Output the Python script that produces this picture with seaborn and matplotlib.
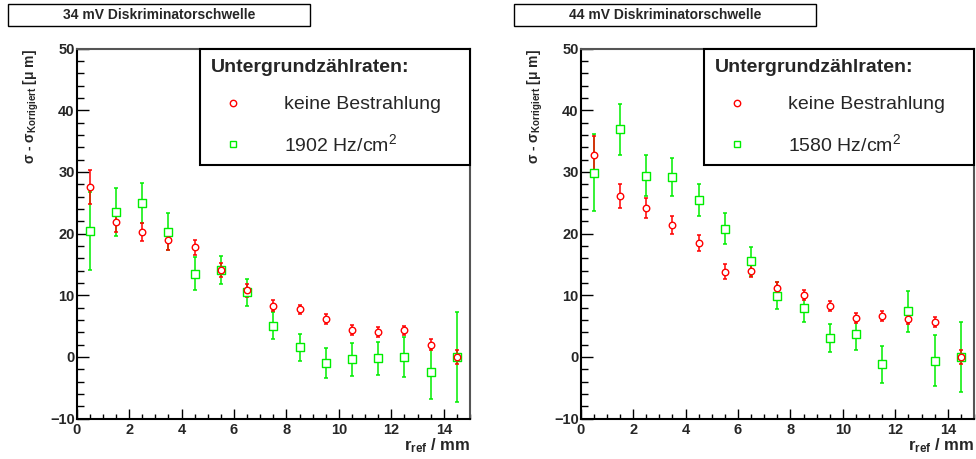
import numpy as np
import seaborn as sns
import matplotlib.pyplot as plt
from matplotlib.lines import Line2D
from matplotlib.patches import Rectangle
from matplotlib.ticker import MultipleLocator

sns.set_theme(style="ticks")
plt.rcParams['font.family'] = ['Liberation Sans', 'DejaVu Sans']
plt.rcParams['mathtext.fontset'] = 'custom'
plt.rcParams['mathtext.rm'] = 'Liberation Sans'
plt.rcParams['mathtext.bf'] = 'Liberation Sans:bold'
plt.rcParams['mathtext.it'] = 'Liberation Sans:italic'

# radius bins (mm)
r_ref = [0.5, 1.5, 2.5, 3.5, 4.5, 5.5, 6.5, 7.5, 8.5, 9.5, 10.5, 11.5, 12.5, 13.5, 14.5]

# 34 mV threshold
sig34_none = [27.6, 21.9, 20.3, 18.9, 17.8, 14.1, 10.8, 8.3, 7.7, 6.2, 4.4, 4.1, 4.3, 2.0, 0.0]
err34_none = [2.8, 1.7, 1.5, 1.5, 1.2, 1.1, 1.1, 0.9, 0.8, 0.8, 0.8, 0.8, 0.8, 0.9, 1.2]
sig34_bg = [20.4, 23.5, 25.0, 20.3, 13.5, 14.1, 10.5, 5.1, 1.6, -1.0, -0.4, -0.2, 0.0, -2.5, 0.0]
err34_bg = [6.3, 3.9, 3.2, 3.0, 2.7, 2.3, 2.2, 2.2, 2.2, 2.4, 2.7, 2.7, 3.3, 4.3, 7.3]

# 44 mV threshold
sig44_none = [32.8, 26.1, 24.2, 21.4, 18.5, 13.8, 14.0, 11.2, 10.1, 8.2, 6.3, 6.6, 6.1, 5.6, 0.0]
err44_none = [3.0, 1.9, 1.6, 1.5, 1.3, 1.2, 1.0, 1.0, 0.8, 0.8, 0.8, 0.8, 0.8, 0.8, 1.2]
sig44_bg = [29.9, 36.9, 29.4, 29.2, 25.5, 20.8, 15.5, 9.9, 7.9, 3.1, 3.7, -1.2, 7.4, -0.6, 0.0]
err44_bg = [6.2, 4.2, 3.3, 3.1, 2.6, 2.5, 2.4, 2.2, 2.2, 2.3, 2.5, 3.0, 3.3, 4.1, 5.7]

titles = ['34 mV Diskriminatorschwelle', '44 mV Diskriminatorschwelle']
bg_labels = ['1902 Hz/cm$^2$', '1580 Hz/cm$^2$']
legend_title = 'Untergrundzählraten:'
none_label = 'keine Bestrahlung'

RED = '#ff0000'
GREEN = '#00ee00'

fig = plt.figure(figsize=(9.76, 4.59), dpi=100)
fig.patch.set_facecolor('white')

panels = [
    (0.0786, sig34_none, err34_none, sig34_bg, err34_bg, 8, 302),
    (0.5950, sig44_none, err44_none, sig44_bg, err44_bg, 514, 302),
]

for i, (left, s_none, e_none, s_bg, e_bg, bx, bw) in enumerate(panels):
    ax = fig.add_axes([left, 0.0880, 0.4030, 0.8060])
    ax.set_facecolor('white')

    ax.errorbar(r_ref, s_bg, yerr=e_bg, fmt='none', ecolor=GREEN,
                elinewidth=1.1, capsize=1.6, capthick=1.1, zorder=2)
    ax.errorbar(r_ref, s_none, yerr=e_none, fmt='none', ecolor=RED,
                elinewidth=1.1, capsize=1.6, capthick=1.1, zorder=3)
    sns.scatterplot(x=r_ref, y=s_bg, ax=ax, marker='s', s=26,
                    facecolor='white', edgecolor=GREEN, linewidth=1.0, zorder=4)
    sns.scatterplot(x=r_ref, y=s_none, ax=ax, marker='o', s=22,
                    facecolor='white', edgecolor=RED, linewidth=1.0, zorder=5)

    ax.set_xlim(0, 15)
    ax.set_ylim(-10, 50)
    ax.xaxis.set_major_locator(MultipleLocator(2))
    ax.xaxis.set_minor_locator(MultipleLocator(0.5))
    ax.yaxis.set_major_locator(MultipleLocator(10))
    ax.yaxis.set_minor_locator(MultipleLocator(2))
    ax.tick_params(axis='x', which='major', direction='in', length=7.2, width=1,
                   pad=3.5, labelsize=10.5, color='black')
    ax.tick_params(axis='x', which='minor', direction='in', length=3.6, width=1, color='black')
    ax.tick_params(axis='y', which='major', direction='in', length=8.6, width=1,
                   pad=1.5, labelsize=10.5, color='black')
    ax.tick_params(axis='y', which='minor', direction='in', length=5, width=1, color='black')
    for lab in ax.get_xticklabels() + ax.get_yticklabels():
        lab.set_fontweight('bold')

    for side in ['left', 'bottom']:
        ax.spines[side].set_color('black')
        ax.spines[side].set_linewidth(1.5)
    for side in ['top', 'right']:
        ax.spines[side].set_color('#555555')
        ax.spines[side].set_linewidth(1.5)

    ax.set_ylabel('σ - σ$_{\\mathbf{Korrigiert}}$ [μ m]', loc='top',
                  fontsize=10, fontweight='bold')
    ax.yaxis.set_label_coords(-0.092, 1.0)
    ax.set_xlabel('r$_{\\mathbf{ref}}$ / mm', loc='right',
                  fontsize=12, fontweight='bold')
    ax.xaxis.set_label_coords(1.0, -0.047)

    handles = [
        Line2D([], [], ls='none', marker='o', ms=4.6, mfc='white', mec=RED, mew=1.0),
        Line2D([], [], ls='none', marker='s', ms=4.6, mfc='white', mec=GREEN, mew=1.0),
    ]
    leg = ax.legend(handles, [none_label, bg_labels[i]], title=legend_title,
                    loc='upper left', bbox_to_anchor=(0.313, 0.685, 0.687, 0.315),
                    mode='expand', borderaxespad=0, fontsize=14,
                    title_fontproperties={'weight': 'bold', 'size': 14},
                    alignment='left', handlelength=2.3, handletextpad=1.48,
                    borderpad=0.55, labelspacing=1.0, fancybox=False,
                    framealpha=1, edgecolor='black')
    leg.get_frame().set_linewidth(1.5)
    leg.set_zorder(10)

    # title box above the panel
    fig.patches.append(Rectangle((bx / 976, 1 - 26 / 459), bw / 976, 22 / 459,
                                 transform=fig.transFigure, facecolor='white',
                                 edgecolor='black', linewidth=1.0))
    fig.text((bx + bw / 2) / 976, 1 - 15 / 459, titles[i], ha='center', va='center',
             fontsize=10, fontweight='bold')

fig.savefig('out.png', dpi=100, facecolor='white')
